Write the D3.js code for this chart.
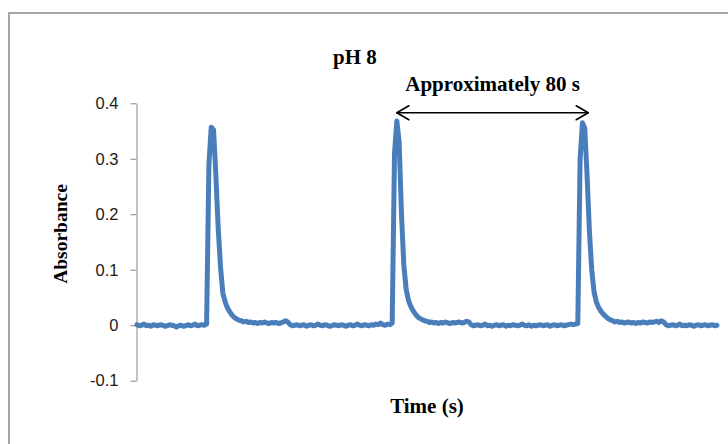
<!DOCTYPE html>
<html>
<head>
<meta charset="utf-8">
<script src="https://cdn.jsdelivr.net/npm/d3@7"></script>
<style>
  html, body { margin: 0; padding: 0; background: #fff; }
  svg { display: block; }
</style>
</head>
<body>
<svg id="chart" width="728" height="444"></svg>
<script>
// Labels
const chartTitle = "pH 8";
const xTitle = "Time (s)";
const yTitle = "Absorbance";

// Y axis ticks
const yTickValues = [-0.1, 0, 0.1, 0.2, 0.3, 0.4];
const yTickLabels = ["-0.1", "0", "0.1", "0.2", "0.3", "0.4"];

// Time axis extent (s) and reading interval (s)
const timeRange = [0, 250];
const sampleStep = 1;

// Absorbance readings, one per second from t = 0 s
const absorbance = [
  0.001, -0.001, 0.000, 0.002, -0.001, 0.000, -0.002, 0.001, 0.000, -0.001,
  0.001, 0.000, -0.002, -0.001, 0.001, 0.000, -0.001, -0.003, -0.001, 0.000,
  -0.002, -0.001, 0.001, -0.001, 0.000, 0.002, -0.001, 0.000, 0.001, 0.000,
  0.002, 0.290, 0.357, 0.352, 0.270, 0.175, 0.105, 0.058, 0.042, 0.031,
  0.024, 0.018, 0.014, 0.011, 0.009, 0.008, 0.006, 0.007, 0.005, 0.006,
  0.004, 0.005, 0.003, 0.005, 0.004, 0.006, 0.004, 0.003, 0.005, 0.004,
  0.005, 0.003, 0.004, 0.006, 0.008, 0.006, 0.001, -0.001, 0.000, 0.001,
  -0.001, 0.000, 0.001, -0.002, 0.000, 0.001, -0.001, 0.000, 0.002, 0.000,
  -0.001, 0.001, 0.000, -0.002, -0.001, 0.001, 0.000, -0.001, 0.001, 0.000,
  -0.002, 0.000, 0.001, -0.001, 0.000, 0.002, 0.000, -0.001, 0.001, 0.000,
  -0.001, 0.001, 0.000, 0.002, 0.001, 0.004, 0.001, 0.000, 0.002, 0.001,
  0.004, 0.310, 0.368, 0.330, 0.200, 0.110, 0.065, 0.045, 0.034, 0.026,
  0.020, 0.015, 0.012, 0.010, 0.008, 0.007, 0.005, 0.006, 0.004, 0.005,
  0.003, 0.005, 0.004, 0.006, 0.004, 0.003, 0.005, 0.004, 0.005, 0.006,
  0.004, 0.005, 0.007, 0.006, 0.001, -0.001, 0.000, 0.001, -0.001, 0.000,
  0.002, -0.001, 0.000, -0.002, 0.000, 0.001, -0.001, 0.000, 0.001, -0.002,
  0.000, -0.001, 0.001, 0.000, -0.001, 0.000, 0.002, 0.000, -0.001, 0.001,
  -0.002, 0.000, -0.001, 0.000, 0.001, -0.001, 0.000, 0.001, -0.002, 0.000,
  0.001, -0.001, 0.000, 0.001, -0.001, 0.000, 0.001, 0.002, 0.001, 0.002,
  0.003, 0.300, 0.365, 0.355, 0.270, 0.170, 0.100, 0.060, 0.042, 0.032,
  0.025, 0.020, 0.016, 0.012, 0.010, 0.008, 0.006, 0.007, 0.005, 0.006,
  0.004, 0.005, 0.006, 0.004, 0.005, 0.003, 0.005, 0.004, 0.006, 0.005,
  0.004, 0.006, 0.005, 0.006, 0.007, 0.005, 0.008, 0.006, 0.001, -0.001,
  0.000, 0.001, -0.001, 0.000, 0.002, -0.001, 0.000, -0.001, 0.001, 0.000,
  -0.002, 0.000, 0.001, -0.001, 0.000, 0.001, -0.001, 0.000, 0.001, -0.001,
  0.000
];

// Period annotation: double arrow between the 2nd and 3rd peaks
const periodNote = "Approximately 80 s";
const periodSpan = [112, 194.5];
const periodLevel = 0.383;

const svg = d3.select("#chart");
const W = 728, H = 444;
const lineColor = "#4a7ebb";
const serif = "'Liberation Serif', 'Times New Roman', serif";
const sans = "'Liberation Sans', Arial, sans-serif";

// Chart area border (runs past the right and bottom edges)
svg.append("rect")
  .attr("x", 9).attr("y", 13)
  .attr("width", W + 20).attr("height", H + 20)
  .attr("fill", "#fff")
  .attr("stroke", "#a6a6a6")
  .attr("stroke-width", 2);

const x = d3.scaleLinear().domain(timeRange).range([137, 717]);
const y = d3.scaleLinear().domain([-0.1, 0.4]).range([380.7, 103.3]);

// Y axis
const yAxis = d3.axisLeft(y)
  .tickValues(yTickValues)
  .tickFormat((d, i) => yTickLabels[i])
  .tickSize(6)
  .tickSizeOuter(0)
  .tickPadding(12);

const gy = svg.append("g")
  .attr("transform", "translate(136.5,0)")
  .call(yAxis);
gy.select(".domain").attr("stroke", "#868686").attr("stroke-width", 1);
gy.selectAll(".tick line").attr("stroke", "#868686").attr("stroke-width", 1);
gy.selectAll(".tick text")
  .attr("fill", "#1a1a1a")
  .style("font-family", sans)
  .style("font-size", "16.5px");

// Absorbance trace
const line = d3.line()
  .x((d, i) => x(timeRange[0] + i * sampleStep))
  .y(d => y(d))
  .curve(d3.curveLinear);

svg.append("path")
  .datum(absorbance)
  .attr("d", line)
  .attr("fill", "none")
  .attr("stroke", lineColor)
  .attr("stroke-width", 5)
  .attr("stroke-linejoin", "round")
  .attr("stroke-linecap", "round");

// Titles
svg.append("text")
  .attr("x", 355).attr("y", 64)
  .attr("text-anchor", "middle")
  .style("font-family", serif).style("font-weight", "bold").style("font-size", "21px")
  .attr("fill", "#000")
  .text(chartTitle);

svg.append("text")
  .attr("x", 427).attr("y", 413)
  .attr("text-anchor", "middle")
  .style("font-family", serif).style("font-weight", "bold").style("font-size", "21px")
  .attr("fill", "#000")
  .text(xTitle);

svg.append("text")
  .attr("transform", "translate(67,234) rotate(-90)")
  .attr("text-anchor", "middle")
  .style("font-family", serif).style("font-weight", "bold").style("font-size", "19.5px")
  .attr("fill", "#000")
  .text(yTitle);

// Period arrow
const ax0 = x(periodSpan[0]), ax1 = x(periodSpan[1]), ay = y(periodLevel);
const head = 12, half = 7;
const arrow = svg.append("g")
  .attr("fill", "none")
  .attr("stroke", "#000")
  .attr("stroke-width", 1.6)
  .attr("stroke-linecap", "round")
  .attr("stroke-linejoin", "round");
arrow.append("line").attr("x1", ax0).attr("x2", ax1).attr("y1", ay).attr("y2", ay);
arrow.append("path").attr("d", `M${ax0 + head},${ay - half}L${ax0},${ay}L${ax0 + head},${ay + half}`);
arrow.append("path").attr("d", `M${ax1 - head},${ay - half}L${ax1},${ay}L${ax1 - head},${ay + half}`);

svg.append("text")
  .attr("x", (ax0 + ax1) / 2).attr("y", 91)
  .attr("text-anchor", "middle")
  .style("font-family", serif).style("font-weight", "bold").style("font-size", "21px")
  .attr("fill", "#000")
  .text(periodNote);
</script>
</body>
</html>
